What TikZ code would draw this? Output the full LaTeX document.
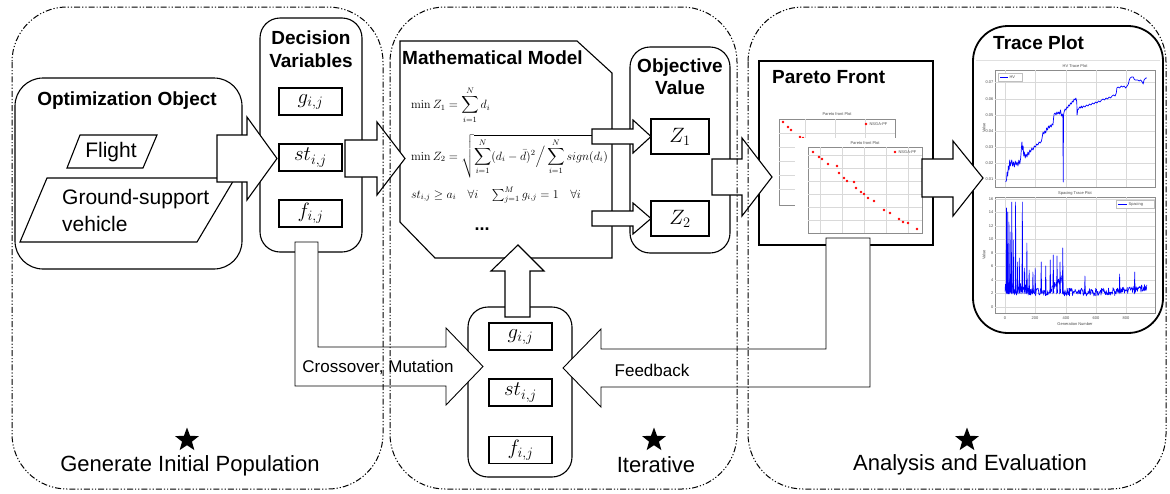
\documentclass[tikz,border=0pt]{standalone}
\usepackage{amsmath}
\usepackage[no-math]{fontspec}
\setmainfont{Liberation Sans}
\usetikzlibrary{shapes.geometric}
\tikzset{
 region/.style={draw=black, line width=1pt, dash pattern=on 6pt off 2pt on 1.2pt off 2pt on 1.2pt off 2pt, rounded corners=55pt},
 boxst/.style={draw, line width=1.1pt, fill=white, inner sep=0pt},
 varbox/.style={draw, line width=1.1pt, fill=white, minimum width=63pt, minimum height=27pt, inner sep=0pt, font=\fontsize{20}{24}\selectfont},
 zbox/.style={varbox, minimum width=58pt, minimum height=35pt, font=\fontsize{22}{26}\selectfont},
 barrow/.style={draw, line width=1.1pt, fill=white, line join=miter},
 larrow/.style={draw, line width=0.9pt, fill=white, line join=miter},
 ttl/.style={font=\fontsize{19}{22.5}\selectfont\bfseries, inner sep=0pt, align=center},
 lbl/.style={font=\fontsize{17}{20}\selectfont, inner sep=0pt},
 objtxt/.style={font=\fontsize{21}{27}\selectfont, inner sep=0pt},
 big/.style={font=\fontsize{22}{26}\selectfont, inner sep=0pt},
 starmark/.style={star, star points=5, star point ratio=2.4, fill=black, minimum size=25pt, inner sep=0pt},
 fml/.style={font=\fontsize{11.5}{13}\selectfont, inner sep=0pt, anchor=west},
 tick/.style={font=\fontsize{4}{5}\selectfont, text=black!70, inner sep=0.4pt},
 gridln/.style={draw=black!15, line width=0.3pt},
 axframe/.style={draw=black!45, line width=0.4pt},
 reddot/.style={circle, fill=red, inner sep=0pt, minimum size=2.8pt},
 bluecurve/.style={draw=blue, line width=0.7pt, line join=round},
}
\begin{document}
\begin{tikzpicture}[x=1pt,y=-1pt]
\useasboundingbox (0,0) rectangle (1170,493);

% ---------- Generate initial population ----------
\node[boxst, rounded corners=28pt, minimum width=227pt, minimum height=191pt] (opt) at (128.5,173.5) {};
\node[ttl] (optt) at (127,101) {Optimization Object};
\coordinate (fl1) at (80,135); \coordinate (fl2) at (157,135); \coordinate (fl3) at (143,168); \coordinate (fl4) at (67,168);
\draw[line width=1.1pt, fill=white] (fl1) -- (fl2) -- (fl3) -- (fl4) -- cycle;
\node[objtxt] (flight) at (111,152) {Flight};
\coordinate (gs1) at (47,178); \coordinate (gs2) at (235,178); \coordinate (gs3) at (197,242); \coordinate (gs4) at (20,242);
\draw[line width=1.1pt, fill=white] (gs1) -- (gs2) -- (gs3) -- (gs4) -- cycle;
\node[objtxt, anchor=west, align=left] (gsv) at (62,210.5) {Ground-support\\vehicle};

\node[boxst, rounded corners=20pt, minimum width=102pt, minimum height=234pt] (dv) at (311,135) {};
\node[ttl] (dvt) at (311,49) {Decision\\Variables};
\node[varbox] (g1) at (310.5,101.5) {$g_{i,j}$};
\node[varbox] (st1) at (310.5,157.5) {$st_{i,j}$};
\node[varbox] (f1) at (310.5,213.5) {$f_{i,j}$};

% ---------- Iterative ----------
\coordinate (mm1) at (400,41); \coordinate (mm2) at (577,41); \coordinate (mm3) at (612,73);
\coordinate (mm4) at (612,258); \coordinate (mm5) at (435,258); \coordinate (mm6) at (400,222);
\draw[line width=1.1pt, fill=white] (mm1) -- (mm2) -- (mm3) -- (mm4) -- (mm5) -- (mm6) -- cycle;
\node[ttl, anchor=west] (mmt) at (402,58) {Mathematical Model};
\node[fml] (fa) at (411,105) {$\min Z_1=\displaystyle\sum_{i=1}^{N} d_i$};
\node[fml] (fb) at (411,156) {$\min Z_2=\sqrt{\displaystyle\sum_{i=1}^{N}(d_i-\bar{d})^2\Big/\sum_{i=1}^{N} sign(d_i)}$};
\node[fml] (fc) at (411,195) {$st_{i,j}\ge a_i\quad\forall i\quad \textstyle\sum_{j=1}^{M} g_{i,j}=1\quad\forall i$};
\node[font=\fontsize{18}{20}\selectfont\bfseries, inner sep=0pt] (fdots) at (482,229) {...};

\node[boxst, rounded corners=20pt, minimum width=100pt, minimum height=206pt] (ov) at (680,150) {};
\node[ttl] (ovt) at (680,76.5) {Objective\\Value};
\node[zbox] (z1) at (680,136.5) {$Z_1$};
\node[zbox] (z2) at (680,218.5) {$Z_2$};

\node[boxst, rounded corners=20pt, minimum width=104pt, minimum height=170pt] (pop) at (520,392) {};
\node[varbox] (g2) at (520.5,336.5) {$g_{i,j}$};
\node[varbox] (st2) at (520.5,392.5) {$st_{i,j}$};
\node[varbox] (f2) at (520.5,450) {$f_{i,j}$};

% ---------- Analysis and evaluation ----------
\node[draw, line width=1.8pt, fill=white, inner sep=0pt, minimum width=174pt, minimum height=184pt] (pf) at (846,153) {};
\node[ttl, anchor=west] (pft) at (772,77) {Pareto Front};
% back plot
\fill[white] (770,110) rectangle (900,212);
\draw[axframe] (779,119) rectangle (895,205);
\foreach \gx in {805,835,865} \draw[gridln] (\gx,119) -- (\gx,205);
\foreach \gy in {133,147,161,175,189} \draw[gridln] (779,\gy) -- (895,\gy);
\node[tick] (pp1t) at (837,114) {Pareto front Plot};
\node[reddot] (pp1l) at (866,124) {};
\node[tick, anchor=west] (pp1lt) at (869,124) {NSGA-PF};
\foreach \px/\py in {783/122,788/127,791/130,800/137,803/138} \node[reddot] at (\px,\py) {};
% front plot
\fill[white] (795,138) rectangle (926,241);
\draw[axframe] (808,147) rectangle (922,233);
\foreach \gx in {820,842,864,886,908} \draw[gridln] (\gx,147) -- (\gx,233);
\foreach \gy in {155,168,181,194,207,220} \draw[gridln] (808,\gy) -- (922,\gy);
\node[tick] (pp2t) at (865,143) {Pareto front Plot};
\node[reddot] (pp2l) at (895,152) {};
\node[tick, anchor=west] (pp2lt) at (898,152) {NSGA-PF};
\foreach \px/\py in {813/152,819/157,822/159,828/164,837/166,839/173,844/178,847/181,854/182,856/188,861/192,864/194,868/198,874/201,884/210,890/213,899/219,903/222,908/223,917/229} \node[reddot] at (\px,\py) {};

\node[draw, line width=1.8pt, fill=white, rounded corners=35pt, inner sep=0pt, minimum width=190pt, minimum height=307pt] (tp) at (1068,179.5) {};
\node[ttl, anchor=west] (tpt) at (993,43) {Trace Plot};
\draw[black!12, line width=0.5pt] (976,60) -- (1160,60);
% HV trace plot
\draw[axframe] (995,70) rectangle (1155,187);
\foreach \gx in {1005,1035,1066,1096,1126} \draw[gridln] (\gx,70) -- (\gx,187);
\foreach \gy/\lab in {82/0.07,99/0.06,115/0.05,131/0.04,147/0.03,163/0.02,179/0.01} {
  \draw[gridln] (995,\gy) -- (1155,\gy);
  \node[tick, anchor=east] at (994,\gy) {\lab};}
\node[tick] (hvt) at (1075,66) {HV Trace Plot};
\node[tick, rotate=90] (hvv) at (984,128) {Value};
\draw[black!25, line width=0.3pt, fill=white] (998,73) rectangle (1022,81);
\draw[blue, line width=0.8pt] (1000,77) -- (1008,77);
\node[tick, anchor=west] (hvl) at (1009,77) {HV};
\begin{scope}[shift={(1005,0)}, xscale=0.1508]
\draw[bluecurve] plot coordinates {(5,182)(10,180)(14,172)(18,176)(22,166)(27,170)(31,160)(35,166)(40,163)(45,160)(50,166)(56,162)(62,167)(68,161)(74,165)(80,162)(86,166)(92,160)(98,164)(104,158)(108,150)(112,142)(116,150)(120,146)(124,156)(128,152)(134,158)(140,154)(146,157)(152,152)(158,155)(164,150)(170,152)(178,148)(186,150)(194,146)(202,147)(210,144)(218,145)(226,142)(234,143)(242,141)(248,136)(252,132)(258,134)(264,131)(270,133)(276,128)(282,130)(288,126)(294,128)(300,125)(306,127)(312,124)(318,125)(322,118)(326,114)(332,113)(338,115)(344,112)(350,114)(356,112)(362,114)(368,110)(374,116)(380,114)(384,118)(386,182)(388,115)(392,112)(398,109)(404,110)(410,107)(416,108)(422,105)(428,106)(434,103)(440,104)(446,101)(452,102)(458,99)(464,100)(470,98)(476,102)(478,115)(482,110)(488,109)(494,107)(500,108)(506,106)(512,108)(520,106)(530,107)(540,105)(550,106)(560,104)(570,105)(580,103)(590,104)(600,102)(610,103)(620,101)(630,102)(640,100)(650,99)(660,100)(670,98)(680,99)(690,97)(700,98)(710,96)(720,95)(730,96)(738,93)(742,88)(750,87)(760,88)(770,86)(780,87)(790,86)(800,88)(810,86)(818,84)(824,80)(830,78)(840,77)(850,77)(856,79)(862,80)(870,80)(880,80)(890,81)(900,80)(910,82)(916,84)(922,80)(928,79)(934,78)(940,78)};
\end{scope}
% Spacing trace plot
\draw[axframe] (995,197) rectangle (1155,313);
\foreach \gx/\lab in {1005/0,1035/200,1066/400,1096/600,1126/800} {
  \draw[gridln] (\gx,197) -- (\gx,313);
  \node[tick] at (\gx,318) {\lab};}
\foreach \gy/\lab in {307/0,293.5/2,280/4,266.5/6,253/8,239.5/10,226/12,212.5/14,199/16} {
  \draw[gridln] (995,\gy) -- (1155,\gy);
  \node[tick, anchor=east] at (994,\gy) {\lab};}
\node[tick] (spt) at (1075,193) {Spacing Trace Plot};
\node[tick, rotate=90] (spv) at (984,255) {Value};
\node[tick] (gen) at (1075,324) {Generation Number};
\draw[black!25, line width=0.3pt, fill=white] (1116,200) rectangle (1154,208);
\draw[blue, line width=0.8pt] (1118,204) -- (1127,204);
\node[tick, anchor=west] (spl) at (1128,204) {Spacing};
\begin{scope}[shift={(1005,0)}, xscale=0.1508]
\pgfmathsetseed{7}
\draw[bluecurve, line width=0.6pt] plot[domain=0:940, samples=320, variable=\t] (\t, {296 - 8*rnd - (\t>280)*(\t<385)*(14*(\t-280)/105) - (\t<160)*7*rnd - (\t>700)*4*(\t-700)/240});
\foreach \g/\yy in {10/208,18/212,26/222,34/232,45/202,55/240,70/202,82/262,95/258,115/202,130/268,145/243,160/270,185/272,200/268,240/262,270/266,300/260,320/255,345/256,365/262,383/248,530/276,760/274,860/272}
  \draw[bluecurve, line width=0.6pt] (\g-3,294) -- (\g,\yy) -- (\g+3,293);
\end{scope}

% ---------- block arrows ----------
\draw[barrow] (217,135) -- (247,135) -- (247,117) -- (277,158.5) -- (247,200) -- (247,182) -- (217,182) -- cycle;
\draw[barrow] (345,140) -- (377,140) -- (377,122) -- (405,158.5) -- (377,195) -- (377,177) -- (345,177) -- cycle;
\draw[barrow] (592,129) -- (633,129) -- (633,120) -- (651,136.5) -- (633,153) -- (633,144) -- (592,144) -- cycle;
\draw[barrow] (592,211) -- (633,211) -- (633,203) -- (651,218.5) -- (633,234) -- (633,226) -- (592,226) -- cycle;
\draw[barrow] (712,159) -- (742,159) -- (742,138) -- (772,177) -- (742,216) -- (742,195) -- (712,195) -- cycle;
\draw[barrow] (922,159) -- (953,159) -- (953,141) -- (983,178) -- (953,216) -- (953,197) -- (922,197) -- cycle;
\draw[barrow] (505,317) -- (530,317) -- (530,271) -- (544,271) -- (518,245) -- (491,271) -- (505,271) -- cycle;
\draw[larrow] (295,242) -- (318,242) -- (318,347) -- (446,347) -- (446,328) -- (483,366.5) -- (446,405) -- (446,386) -- (295,386) -- cycle;
\draw[larrow] (826,238) -- (870,238) -- (870,387) -- (601,387) -- (601,407) -- (563,368) -- (601,329) -- (601,349) -- (826,349) -- cycle;
\node[lbl] (cm) at (378,367) {Crossover, Mutation};
\node[lbl] (fb) at (652,370) {Feedback};

% ---------- regions ----------
\draw[region] (12,7) rectangle (383,489);
\draw[region] (390,7) rectangle (737,489);
\draw[region] (748,7) rectangle (1166,489);

\node[starmark] (s1) at (187,440) {};
\node[big] (r1) at (190,466) {Generate Initial Population};
\node[starmark] (s2) at (654,440) {};
\node[big] (r2) at (656,465) {Iterative};
\node[starmark] (s3) at (967,440) {};
\node[big] (r3) at (970,465) {Analysis and Evaluation};
\end{tikzpicture}
\end{document}
